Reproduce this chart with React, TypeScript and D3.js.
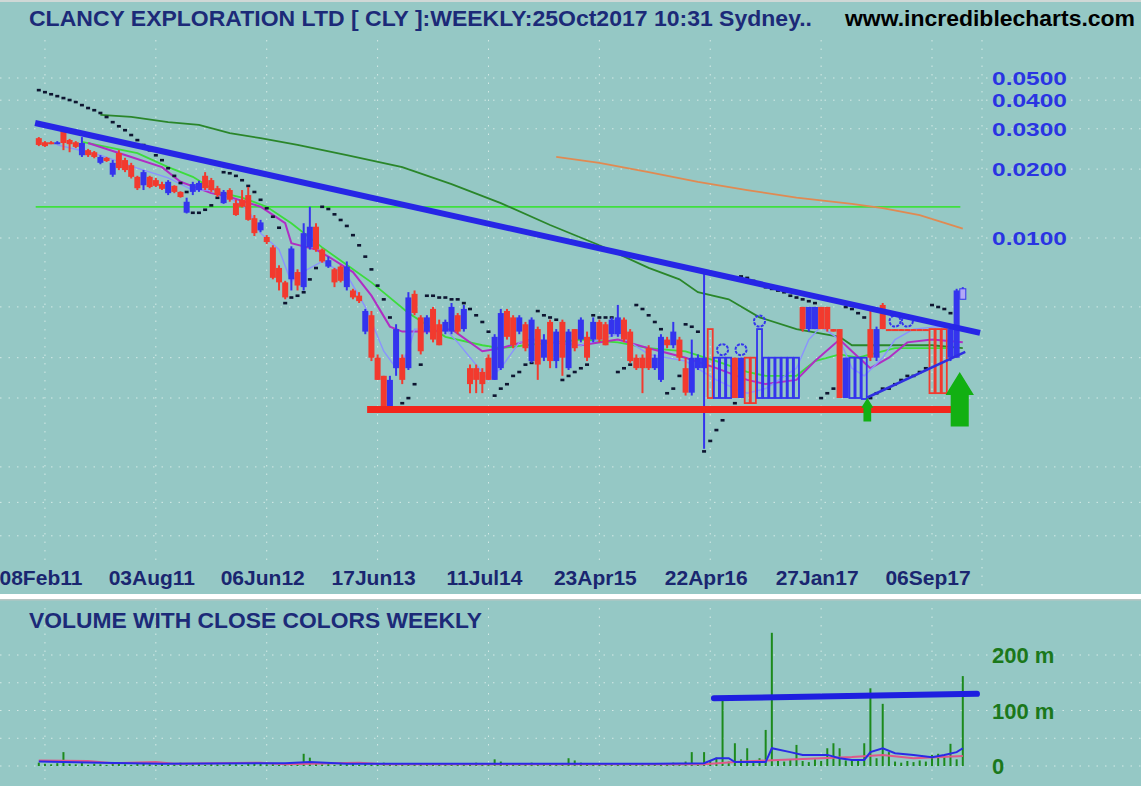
import React from "react";
import * as d3 from "d3";

const W = 1141;
const H = 790;

const tickDates = ["08Feb11", "03Aug11", "06Jun12", "17Jun13", "11Jul14", "23Apr15", "22Apr16", "27Jan17", "06Sep17"];
const tickBars = [1, 19, 37, 55, 73, 91, 109, 127, 145];
const priceTicks = [0.05, 0.04, 0.03, 0.02, 0.01];
const priceTickLabels = ["0.0500", "0.0400", "0.0300", "0.0200", "0.0100"];
const extraGridPrices = [0.005, 0.003, 0.002, 0.001, 0.0007, 0.0005];
const volTicks = [0, 100, 200];
const volTickLabels = ["0", "100 m", "200 m"];

const opens = [
  0.0273, 0.0262, 0.0262, 0.026, 0.0293, 0.0268, 0.0262, 0.023, 0.0242, 0.0237,
  0.0213, 0.0224, 0.0189, 0.0235, 0.0219, 0.0208, 0.0185, 0.017, 0.0185, 0.0179,
  0.0172, 0.0157, 0.0169, 0.0159, 0.0129, 0.0159, 0.0162, 0.0187, 0.0179, 0.0165,
  0.0142, 0.0162, 0.0142, 0.0147, 0.0154, 0.0122, 0.0108, 0.0101, 0.0091, 0.0074,
  0.0064, 0.0066, 0.0071, 0.0061, 0.0091, 0.0112, 0.0089, 0.0075, 0.0073, 0.0075,
  0.0061, 0.0059, 0.0056, 0.0039, 0.0046, 0.003, 0.0025, 0.0018, 0.0027, 0.003,
  0.0027, 0.0057, 0.0045, 0.0039, 0.0049, 0.0042, 0.0039, 0.0039, 0.0046, 0.004,
  0.0027, 0.0027, 0.0026, 0.003, 0.0024, 0.0027, 0.0048, 0.0045, 0.0039, 0.0042,
  0.0029, 0.004, 0.003, 0.0043, 0.0029, 0.0043, 0.0027, 0.004, 0.0036, 0.0037,
  0.0036, 0.0043, 0.0042, 0.0038, 0.0038, 0.0044, 0.0039, 0.003, 0.003, 0.0033,
  0.0027, 0.0024, 0.0036, 0.0034, 0.0036, 0.0027, 0.00211, 0.0027, 0.0027, 0.0029,
  0.003, 0.003, 0.003, 0.003, 0.002, 0.0023, 0.0022, 0.003, 0.003, 0.003,
  0.003, 0.003, 0.003, 0.003, 0.005, 0.004, 0.004, 0.005, 0.005, 0.004,
  0.004, 0.002, 0.003, 0.003, 0.003, 0.004, 0.003, 0.0051, 0.004, 0.004,
  0.004, 0.004, 0.004, 0.004, 0.004, 0.0039, 0.00385, 0.0038, 0.003, 0.003,
  0.0054,
];
const highs = [
  0.0276, 0.0265, 0.0265, 0.0265, 0.0302, 0.0271, 0.0265, 0.0276, 0.0245, 0.024,
  0.023, 0.0226, 0.0219, 0.0242, 0.0224, 0.0213, 0.0187, 0.0198, 0.0187, 0.0183,
  0.0176, 0.0179, 0.017, 0.016, 0.015, 0.0176, 0.0178, 0.0194, 0.0183, 0.0169,
  0.0162, 0.0165, 0.0147, 0.0162, 0.0167, 0.0126, 0.012, 0.0103, 0.0093, 0.0076,
  0.0065, 0.0092, 0.0073, 0.0116, 0.0137, 0.0116, 0.009, 0.0083, 0.0074, 0.0076,
  0.0079, 0.006, 0.0058, 0.0049, 0.0048, 0.0031, 0.0025, 0.0025, 0.0042, 0.0031,
  0.0058, 0.0059, 0.0046, 0.0046, 0.005, 0.0044, 0.0044, 0.0052, 0.0047, 0.0051,
  0.0028, 0.0028, 0.0027, 0.0031, 0.0038, 0.0049, 0.0049, 0.0046, 0.0046, 0.0043,
  0.0045, 0.0041, 0.0038, 0.0044, 0.004, 0.0044, 0.004, 0.004, 0.0045, 0.0039,
  0.0045, 0.0044, 0.0043, 0.0045, 0.0051, 0.0045, 0.004, 0.0031, 0.0031, 0.0034,
  0.0031, 0.0038, 0.0037, 0.0043, 0.0037, 0.003, 0.0036, 0.0031, 0.0071, 0.004,
  0.003, 0.003, 0.003, 0.003, 0.003, 0.003, 0.003, 0.004, 0.003, 0.003,
  0.003, 0.003, 0.003, 0.003, 0.005, 0.005, 0.005, 0.005, 0.005, 0.004,
  0.004, 0.003, 0.003, 0.003, 0.003, 0.005, 0.0041, 0.0052, 0.004, 0.004,
  0.004, 0.004, 0.004, 0.004, 0.004, 0.004, 0.004, 0.004, 0.0041, 0.006,
  0.0061,
];
const lows = [
  0.0252, 0.025, 0.0257, 0.0257, 0.0242, 0.0237, 0.0247, 0.0226, 0.0226, 0.0223,
  0.021, 0.0215, 0.0185, 0.0198, 0.0194, 0.0182, 0.0162, 0.0162, 0.0165, 0.0167,
  0.0162, 0.0154, 0.0157, 0.015, 0.0128, 0.0154, 0.0159, 0.0162, 0.0159, 0.0151,
  0.0141, 0.0144, 0.0125, 0.0136, 0.0119, 0.0102, 0.0106, 0.0094, 0.0066, 0.0059,
  0.0054, 0.0059, 0.0059, 0.0059, 0.0089, 0.0087, 0.0078, 0.0074, 0.0061, 0.0064,
  0.0059, 0.0054, 0.0052, 0.0038, 0.0029, 0.0024, 0.0018, 0.0018, 0.0025, 0.0023,
  0.00265, 0.0046, 0.0031, 0.0038, 0.0035, 0.0034, 0.0038, 0.0038, 0.0038, 0.0039,
  0.0021, 0.0021, 0.0021, 0.0024, 0.0024, 0.00265, 0.0036, 0.0033, 0.0038, 0.0032,
  0.00285, 0.0024, 0.0029, 0.0027, 0.0027, 0.0025, 0.00265, 0.0032, 0.0035, 0.0029,
  0.0035, 0.0035, 0.0034, 0.0037, 0.0037, 0.0035, 0.00285, 0.00265, 0.0021, 0.00265,
  0.00265, 0.00235, 0.0033, 0.0033, 0.0029, 0.00205, 0.00205, 0.00265, 0.0012, 0.002,
  0.002, 0.002, 0.002, 0.002, 0.002, 0.0019, 0.0019, 0.002, 0.002, 0.002,
  0.002, 0.002, 0.002, 0.002, 0.0039, 0.0039, 0.004, 0.004, 0.0039, 0.0039,
  0.002, 0.002, 0.002, 0.002, 0.00198, 0.0029, 0.0029, 0.004, 0.00395, 0.00395,
  0.00395, 0.00395, 0.00395, 0.00395, 0.00395, 0.0021, 0.0021, 0.0021, 0.0029, 0.003,
  0.0054,
];
const closes = [
  0.0255, 0.0252, 0.026, 0.0262, 0.026, 0.0257, 0.025, 0.026, 0.023, 0.0226,
  0.0226, 0.0217, 0.0213, 0.0202, 0.0198, 0.0185, 0.0165, 0.0194, 0.0167, 0.0169,
  0.0164, 0.0176, 0.0159, 0.0151, 0.0144, 0.0172, 0.0174, 0.0165, 0.0162, 0.0154,
  0.0159, 0.0147, 0.0126, 0.0137, 0.012, 0.0105, 0.0117, 0.0096, 0.0067, 0.0064,
  0.0055, 0.009, 0.0062, 0.0105, 0.0112, 0.0089, 0.0079, 0.008, 0.0064, 0.0065,
  0.0075, 0.0055, 0.0053, 0.0048, 0.003, 0.0024, 0.0018, 0.0024, 0.004, 0.0024,
  0.0055, 0.0047, 0.0032, 0.0045, 0.0036, 0.0034, 0.0043, 0.005, 0.0039, 0.0049,
  0.0023, 0.0024, 0.0023, 0.0024, 0.0037, 0.0047, 0.0037, 0.0034, 0.0045, 0.0033,
  0.0044, 0.0028, 0.0036, 0.0029, 0.0039, 0.003, 0.0039, 0.0033, 0.0044, 0.003,
  0.0043, 0.0036, 0.0034, 0.0044, 0.0045, 0.0036, 0.0029, 0.0027, 0.0027, 0.0027,
  0.003, 0.0037, 0.0034, 0.0039, 0.003, 0.00211, 0.003, 0.003, 0.003, 0.0029,
  0.003, 0.003, 0.003, 0.002, 0.003, 0.0023, 0.0022, 0.003, 0.003, 0.003,
  0.003, 0.003, 0.003, 0.003, 0.004, 0.005, 0.005, 0.004, 0.004, 0.0039,
  0.002, 0.003, 0.003, 0.003, 0.003, 0.003, 0.004, 0.004, 0.00395, 0.00395,
  0.00395, 0.00395, 0.00395, 0.00395, 0.00395, 0.0039, 0.00385, 0.0038, 0.004, 0.0059,
  0.006,
];
const volumes = [
  6, 4, 3, 5, 25, 4, 3, 6, 2, 4,
  3, 2, 5, 6, 3, 2, 4, 5, 3, 2,
  4, 2, 3, 6, 2, 3, 4, 2, 5, 3,
  2, 4, 3, 2, 5, 6, 4, 3, 5, 2,
  4, 3, 6, 22, 15, 5, 3, 4, 2, 6,
  3, 5, 2, 4, 3, 2, 6, 4, 3, 2,
  5, 3, 2, 4, 2, 3, 5, 2, 4, 3,
  2, 6, 3, 4, 12, 8, 5, 3, 2, 4,
  6, 3, 5, 4, 2, 3, 14, 10, 6, 3,
  4, 2, 3, 5, 3, 2, 4, 3, 5, 2,
  3, 4, 2, 6, 3, 8, 25, 5, 25, 10,
  15, 119, 8, 41, 12, 32, 9, 14, 65, 240,
  10, 8, 12, 38, 9, 7, 12, 9, 32, 41,
  32, 10, 12, 9, 41, 140, 14, 112, 25, 8,
  6, 9, 7, 10, 8, 20, 22, 18, 40, 12,
  162,
];
const sar = [
  0.0443, 0.0434, 0.0425, 0.0417, 0.0409, 0.0401, 0.0393, 0.0381, 0.037, 0.0362,
  0.0352, 0.0338, 0.0321, 0.0308, 0.0296, 0.0282, 0.0268, 0.0255, 0.0242, 0.023,
  0.0219, 0.0202, 0.0187, 0.0174, 0.0159, 0.0129, 0.0129, 0.0133, 0.0139, 0.015,
  0.0194, 0.0192, 0.0187, 0.0179, 0.0169, 0.0159, 0.0147, 0.0135, 0.0124, 0.0111,
  0.0052, 0.0055, 0.0056, 0.0058, 0.0066, 0.0074, 0.0137, 0.0134, 0.0127, 0.012,
  0.0113, 0.0103, 0.0093, 0.0083, 0.0073, 0.0062, 0.0054, 0.0045, 0.0018, 0.0019,
  0.002, 0.0023, 0.0028, 0.0056, 0.0056, 0.0055, 0.0055, 0.0054, 0.0054, 0.0052,
  0.0049, 0.0046, 0.0043, 0.0039, 0.00205, 0.0022, 0.0023, 0.0025, 0.0026, 0.0028,
  0.00285, 0.0048, 0.0046, 0.0045, 0.0044, 0.0024, 0.0025, 0.0026, 0.0027, 0.0028,
  0.0046, 0.0045, 0.0045, 0.0045, 0.0026, 0.0027, 0.0028, 0.0051, 0.0049, 0.0046,
  0.0043, 0.004, 0.0021, 0.0022, 0.0025, 0.0042, 0.0041, 0.0039, 0.00117, 0.0013,
  0.00145, 0.0016, 0.0018, 0.0019, 0.0068, 0.0067, 0.0065, 0.0063, 0.0061, 0.006,
  0.0059, 0.0058, 0.0056, 0.0055, 0.0054, 0.0053, 0.0052, 0.002, 0.0021, 0.0022,
  0.0024, 0.005, 0.0049, 0.0047, 0.0045, 0.002, 0.0021, 0.0022, 0.0022, 0.0023,
  0.0024, 0.0025, 0.0025, 0.0026, 0.0027, 0.0051, 0.005, 0.0049, 0.0047, 0.0021,
  0.0022,
];

// Moving averages: [bar, price]
const lightBlueMA: [number, number][] = [
  [3, 0.0255], [10, 0.023], [16, 0.0202], [21, 0.0183], [25, 0.0162], [29, 0.0162], [34, 0.0133],
  [36, 0.0105], [39, 0.0089], [41, 0.0064], [42, 0.0069], [46, 0.0079], [50, 0.0069], [53, 0.005],
  [56, 0.0032], [58, 0.0027], [60, 0.0032], [61, 0.004], [66, 0.004], [68, 0.0035], [73, 0.0024],
  [75, 0.0027], [78, 0.0035], [81, 0.0036], [88, 0.0034], [94, 0.0038], [99, 0.0031], [105, 0.0029],
  [110, 0.0024], [113, 0.0022], [115, 0.0021], [118, 0.0022], [123, 0.0027], [125, 0.0036],
  [127, 0.0041], [130, 0.0036], [132, 0.0027], [134, 0.0025], [137, 0.003], [139, 0.0036],
  [142, 0.004], [146, 0.0041], [150, 0.004],
];
const magentaMA: [number, number][] = [
  [8, 0.026], [15, 0.0226], [20, 0.0204], [23, 0.0176], [28, 0.0157], [31, 0.0151], [36, 0.0137],
  [40, 0.0116], [41, 0.0095], [45, 0.0089], [47, 0.0083], [51, 0.0071], [54, 0.0056], [57, 0.0041],
  [59, 0.0039], [61, 0.0039], [64, 0.0039], [67, 0.004], [72, 0.0032], [75, 0.0033], [80, 0.0036],
  [88, 0.0034], [94, 0.0036], [99, 0.0033], [105, 0.003], [110, 0.0027], [115, 0.0024], [118, 0.0023],
  [123, 0.0024], [126, 0.0029], [130, 0.0036], [132, 0.0032], [135, 0.0027], [138, 0.003],
  [141, 0.0035], [145, 0.0036], [150, 0.0035],
];
const lightGreenMA: [number, number][] = [
  [7, 0.0263], [12, 0.0247], [16, 0.0235], [21, 0.0204], [25, 0.0185], [29, 0.0159], [33, 0.015],
  [37, 0.0137], [41, 0.0116], [46, 0.0091], [51, 0.0073], [54, 0.0064], [60, 0.0047], [66, 0.0037],
  [72, 0.0034], [75, 0.0033], [79, 0.0034], [88, 0.0036], [94, 0.0035], [99, 0.0033], [105, 0.0032],
  [110, 0.0029], [115, 0.0026], [118, 0.0025], [123, 0.0025], [126, 0.0029], [130, 0.0031],
  [133, 0.003], [135, 0.0031], [139, 0.0033], [144, 0.0033], [148, 0.0033],
];
const darkGreenMA: [number, number][] = [
  [10, 0.0345], [15, 0.0338], [21, 0.0321], [26, 0.0312], [31, 0.0287], [36, 0.0273], [42, 0.0255],
  [50, 0.023], [59, 0.0204], [67, 0.0172], [75, 0.0142], [83, 0.0114], [91, 0.0093], [99, 0.0074],
  [104, 0.0066], [107, 0.0058], [112, 0.0054], [117, 0.0045], [123, 0.004], [130, 0.0037],
  [132, 0.0034], [138, 0.0034], [145, 0.0034], [150, 0.0033],
];
const orangeMA: [number, number][] = [
  [84, 0.0226], [91, 0.0213], [99, 0.0194], [107, 0.0176], [115, 0.0162], [123, 0.015],
  [132, 0.0141], [137, 0.0135], [143, 0.0126], [150, 0.011],
];

// Drawn annotations: [bar, price]
const resistanceLine: [number, number][] = [[-0.6, 0.0318], [152.8, 0.00385]];
const supportLine: [number, number][] = [[53.3, 0.00178], [149.3, 0.00178]];
const risingLine: [number, number][] = [[134.5, 0.00201], [150.4, 0.00318]];
const levelLine: [number, number][] = [[-0.5, 0.01367], [149.6, 0.01367]];
const arrows: [number, number, number][] = [[134.5, 0.002, 0.00158], [149.5, 0.0026, 0.0015]];
const signalBars = [111, 114, 117, 139, 141];

const volBlueMA: [number, number][] = [
  [0, 8], [10, 6], [20, 4], [40, 5], [44, 7], [50, 4], [80, 4], [100, 4], [108, 5], [110, 14],
  [112, 14], [113, 7], [118, 7], [119, 32], [122, 25], [124, 20], [128, 20], [130, 14], [132, 11],
  [134, 11], [135, 25], [137, 32], [139, 23], [142, 20], [145, 16], [147, 20], [149, 25], [150, 32],
];
const volPinkMA: [number, number][] = [
  [0, 10], [8, 9], [12, 5], [19, 7], [22, 4], [36, 6], [40, 3], [52, 6], [56, 3], [80, 3],
  [108, 3], [113, 7], [120, 11], [132, 16], [137, 20], [142, 14], [150, 18],
];
const volTrendLine: [number, number][] = [[109.6, 122], [152.3, 130]];

const FONT = "'Liberation Sans', Arial, Helvetica, sans-serif";
const BLUE = "#3434ee";
const RED = "#f23a2e";

export default function App() {
  const x = d3.scaleLinear().domain([0, 150]).range([38.8, 962.8]);
  const yP = d3.scaleLog().domain([0.01, 0.05]).range([238, 78]);
  const yV = d3.scaleLinear().domain([0, 200]).range([766, 655]);

  const pLine = d3.line<[number, number]>().x((d) => x(d[0])).y((d) => yP(d[1]));
  const vLine = d3.line<[number, number]>().x((d) => x(d[0])).y((d) => yV(d[1]));

  const n = Math.min(opens.length, highs.length, lows.length, closes.length);
  const bw = 6;

  const candles = [];
  for (let i = 0; i < n; i++) {
    const o = opens[i], h = highs[i], l = lows[i], c = closes[i];
    const cx = x(i);
    const isDoji = o === c;
    const prev = i > 0 ? closes[i - 1] : c;
    const col = isDoji ? (c >= prev ? BLUE : RED) : c > o ? BLUE : RED;
    const last = i === n - 1;
    if (isDoji) {
      const y1 = yP(h), y2 = yP(l);
      candles.push(
        <rect key={"c" + i} x={cx - bw / 2 + 0.5} y={y1} width={bw - 1} height={Math.max(1, y2 - y1)}
          fill="none" stroke={col} strokeWidth={1.8} />
      );
    } else {
      const yt = yP(Math.max(o, c)), yb = yP(Math.min(o, c));
      candles.push(
        <g key={"c" + i}>
          <line x1={cx} x2={cx} y1={yP(h)} y2={yP(l)} stroke={col} strokeWidth={2} />
          <rect x={cx - bw / 2} y={yt} width={bw} height={Math.max(2, yb - yt)}
            fill={last ? "#b2a8f6" : col} stroke={last ? BLUE : "none"} strokeWidth={1} />
        </g>
      );
    }
  }

  const gridStyle = { stroke: "#eaf6f2", strokeWidth: 1, strokeDasharray: "1.5 7", opacity: 0.75 };

  return (
    <svg width={W} height={H} style={{ position: "absolute", left: 0, top: 0, display: "block" }}
      fontFamily={FONT}>
      <rect x={0} y={0} width={W} height={H} fill="#95c8c5" />
      <rect x={0} y={0} width={W} height={2} fill="#cfd8d6" />

      {/* main grid */}
      {priceTicks.concat(extraGridPrices).map((p, k) => (
        <line key={"hg" + k} x1={0} x2={W} y1={yP(p)} y2={yP(p)} {...gridStyle} />
      ))}
      {tickBars.map((b, k) => (
        <line key={"vg" + k} x1={x(b)} x2={x(b)} y1={40} y2={560} {...gridStyle} />
      ))}
      <line x1={982} x2={982} y1={40} y2={592} {...gridStyle} />

      {/* title */}
      <text x={29} y={26} fontSize={22} fontWeight="bold" fill="#1c2a78" textLength={783}
        lengthAdjust="spacingAndGlyphs">
        CLANCY EXPLORATION LTD [ CLY ]:WEEKLY:25Oct2017 10:31 Sydney..
      </text>
      <text x={845} y={26} fontSize={22} fontWeight="bold" fill="#000000" textLength={290}
        lengthAdjust="spacingAndGlyphs">
        www.incrediblecharts.com
      </text>

      {/* y axis labels */}
      {priceTicks.map((p, k) => (
        <text key={"yl" + k} x={992} y={yP(p) + 7} fontSize={19} fontWeight="bold" fill="#2a34e2"
          textLength={75} lengthAdjust="spacingAndGlyphs">
          {priceTickLabels[k]}
        </text>
      ))}

      {/* x axis labels */}
      {tickBars.map((b, k) => (
        <text key={"xl" + k} x={x(b) - 4} y={585} fontSize={21} fontWeight="bold" fill="#1a2670"
          textAnchor="middle">
          {tickDates[k]}
        </text>
      ))}

      {/* indicators */}
      <path d={pLine(levelLine) || ""} stroke="#3fe03f" strokeWidth={1.8} fill="none" />
      <path d={pLine(orangeMA) || ""} stroke="#e08a52" strokeWidth={1.8} fill="none" />
      <path d={pLine(darkGreenMA) || ""} stroke="#2a862a" strokeWidth={1.8} fill="none" />
      <path d={pLine(lightGreenMA) || ""} stroke="#3cdc3c" strokeWidth={1.8} fill="none" />
      <path d={pLine(magentaMA) || ""} stroke="#b02ec4" strokeWidth={2} fill="none" />
      <path d={pLine(lightBlueMA) || ""} stroke="#8a92ff" strokeWidth={1.4} fill="none" />

      {/* SAR */}
      {sar.slice(0, n).map((s, i) => (
        <rect key={"s" + i} x={x(i) - 2} y={yP(s) - 1.2} width={4} height={2.6} fill="#0e1530" />
      ))}

      {/* candles */}
      {candles}

      {/* signal markers */}
      {signalBars.map((b, k) => (
        <circle key={"sg" + k} cx={x(b)} cy={yP(highs[b]) - 8} r={5.5} fill="none" stroke={BLUE}
          strokeWidth={2} strokeDasharray="3 1.2" />
      ))}

      {/* annotations */}
      <path d={pLine(resistanceLine) || ""} stroke="#2626e6" strokeWidth={6} fill="none" />
      <path d={pLine(supportLine) || ""} stroke="#f2261c" strokeWidth={7} fill="none" />
      <path d={pLine(risingLine) || ""} stroke="#2f2fe0" strokeWidth={2.5} fill="none" />
      {arrows.map(([b, top, bot], k) => {
        const cx = x(b), y1 = yP(top), y2 = yP(bot);
        const len = y2 - y1;
        const hw = len * 0.26, sw = len * 0.165, hh = len * 0.42;
        const pts = [
          [cx, y1], [cx + hw, y1 + hh], [cx + sw, y1 + hh], [cx + sw, y2],
          [cx - sw, y2], [cx - sw, y1 + hh], [cx - hw, y1 + hh],
        ].map((p) => p.join(",")).join(" ");
        return <polygon key={"ar" + k} points={pts} fill="#12b012" />;
      })}

      {/* separator */}
      <rect x={0} y={594} width={W} height={5} fill="#ffffff" />
      <rect x={0} y={599} width={W} height={1.5} fill="#b9c6c4" />

      {/* volume panel */}
      {[0, 50, 100, 150, 200].map((v, k) => (
        <line key={"vh" + k} x1={0} x2={W} y1={yV(v)} y2={yV(v)} {...gridStyle} />
      ))}
      {tickBars.map((b, k) => (
        <line key={"vv" + k} x1={x(b)} x2={x(b)} y1={608} y2={782} {...gridStyle} />
      ))}
      <text x={29} y={628} fontSize={22} fontWeight="bold" fill="#1c2a78" textLength={453}
        lengthAdjust="spacingAndGlyphs">
        VOLUME WITH CLOSE COLORS WEEKLY
      </text>
      {volTicks.map((v, k) => (
        <text key={"vt" + k} x={992} y={yV(v) + 8} fontSize={22} fontWeight="bold" fill="#1b781b">
          {volTickLabels[k]}
        </text>
      ))}
      {volumes.slice(0, n).map((v, i) => (
        <line key={"vb" + i} x1={x(i)} x2={x(i)} y1={yV(0)} y2={yV(v)} stroke="#1c8a1c" strokeWidth={2} />
      ))}
      <path d={vLine(volPinkMA) || ""} stroke="#e0588a" strokeWidth={2} fill="none" />
      <path d={vLine(volBlueMA) || ""} stroke="#2a2ae6" strokeWidth={2} fill="none" />
      <path d={vLine(volTrendLine) || ""} stroke="#1e1ee0" strokeWidth={6} fill="none" strokeLinecap="round" />

      <rect x={0} y={786} width={W} height={4} fill="#ffffff" />
    </svg>
  );
}
